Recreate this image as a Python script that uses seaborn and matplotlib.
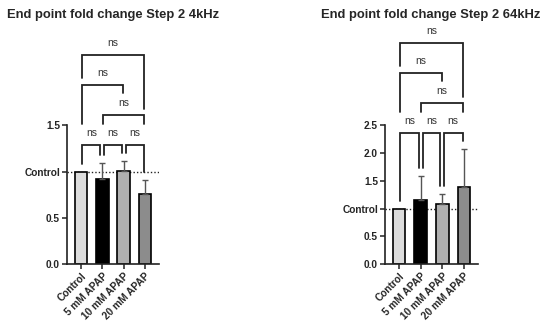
import numpy as np
import pandas as pd
import matplotlib
matplotlib.use("Agg")
import matplotlib.pyplot as plt
import seaborn as sns

# data
groups = ["Control", "5 mM APAP", "10 mM APAP", "20 mM APAP"]
mean_4k = [1.0, 0.92, 1.01, 0.76]
err_4k = [0.0, 0.17, 0.10, 0.15]
mean_64k = [1.0, 1.16, 1.08, 1.38]
err_64k = [0.0, 0.42, 0.19, 0.69]
comparisons = [(0, 1), (1, 2), (2, 3), (1, 3), (0, 2), (0, 3)]
comp_levels = [0, 0, 0, 1, 2, 3]
comp_labels = ["ns"] * 6
bar_colors = ["#dcdcdc", "#000000", "#b0b0b0", "#8c8c8c"]

# leg drop (px) for the upper brackets: (left, right)
leg_drop_px = {(1, 3): (9, 9), (0, 2): (39, 8), (0, 3): (23, 54)}

sns.set_style("ticks")
plt.rcParams["font.family"] = ["Liberation Sans", "DejaVu Sans"]

W, H = 550, 330
fig = plt.figure(figsize=(W / 100, H / 100), dpi=100)

AX_TOP_PX = 30
AX_BOTTOM_PX = 264
SPINE_PX = 138.7   # length of the y spine in px


def draw_panel(left_px, right_px, means, errs, ytop, yticks, title, title_x):
    ax = fig.add_axes([left_px / W, 1 - AX_BOTTOM_PX / H,
                       (right_px - left_px) / W, (AX_BOTTOM_PX - AX_TOP_PX) / H])
    ymax = ytop * (AX_BOTTOM_PX - AX_TOP_PX) / SPINE_PX
    u = ytop / SPINE_PX  # data units per px

    df = pd.DataFrame({"group": groups, "value": means})
    ax.axhline(1.0, color="#222222", ls=(0, (1, 1.5)), lw=1.0, zorder=0)
    sns.barplot(data=df, x="group", y="value", hue="group", palette=bar_colors,
                width=0.58, edgecolor="black", linewidth=1.2, legend=False,
                ax=ax, zorder=2)

    idx = [i for i, e in enumerate(errs) if e > 0]
    ax.errorbar(np.array(idx), np.array(means)[idx],
                yerr=[np.zeros(len(idx)), np.array(errs)[idx]],
                fmt="none", ecolor="#555555", elinewidth=1.0, capsize=2.5,
                capthick=1.0, zorder=3)

    tops = [m + e for m, e in zip(means, errs)]
    base = max(tops) + 16 * u
    step = 30 * u

    # which endpoints are shared among level-0 brackets
    ends0 = [p for c, l in zip(comparisons, comp_levels) if l == 0 for p in c]
    for (i, j), lev, lab in zip(comparisons, comp_levels, comp_labels):
        y = base + lev * step
        if lev == 0:
            xi = i + (0.1 if ends0.count(i) > 1 else 0.03)
            xj = j - (0.1 if ends0.count(j) > 1 else 0.03)
            yi = tops[i] + 8 * u
            yj = tops[j] + 8 * u
        else:
            xi, xj = i + 0.03, j - 0.03
            di, dj = leg_drop_px[(i, j)]
            yi, yj = y - di * u, y - dj * u
        ax.plot([xi, xi, xj, xj], [yi, y, y, yj], color="#222222", lw=1.3,
                solid_joinstyle="miter", clip_on=False, zorder=4)
        ax.text((i + j) / 2, y + 12 * u, lab, ha="center", va="center",
                fontsize=7.5, color="#333333")

    ax.set_xlim(-0.66, 3.66)
    ax.set_ylim(0, ymax)
    ax.set_yticks(yticks)
    ax.set_yticklabels(["Control" if t == 1.0 else f"{t:.1f}" for t in yticks],
                       fontsize=7.3, fontweight="bold")
    ax.set_xticks(range(len(groups)))
    ax.set_xticklabels(groups, rotation=45, ha="right", rotation_mode="anchor",
                       fontsize=7.3, fontweight="bold")
    ax.tick_params(axis="both", length=3.5, width=1.1, pad=1.5, color="#222222")
    ax.set_xlabel("")
    ax.set_ylabel("")
    sns.despine(ax=ax)
    ax.spines["left"].set_bounds(0, ytop)
    for s in ("left", "bottom"):
        ax.spines[s].set_linewidth(1.2)
        ax.spines[s].set_color("#222222")

    fig.text(title_x / W, 1 - 15 / H, title, ha="left", va="center",
             fontsize=9.4, fontweight="bold")
    return ax


draw_panel(67, 159, mean_4k, err_4k, 1.5, [0, 0.5, 1.0, 1.5],
           "End point fold change Step 2 4kHz", 7)
draw_panel(385, 478, mean_64k, err_64k, 2.5, [0, 0.5, 1.0, 1.5, 2.0, 2.5],
           "End point fold change Step 2 64kHz", 321)

fig.savefig("out.png", dpi=100)
